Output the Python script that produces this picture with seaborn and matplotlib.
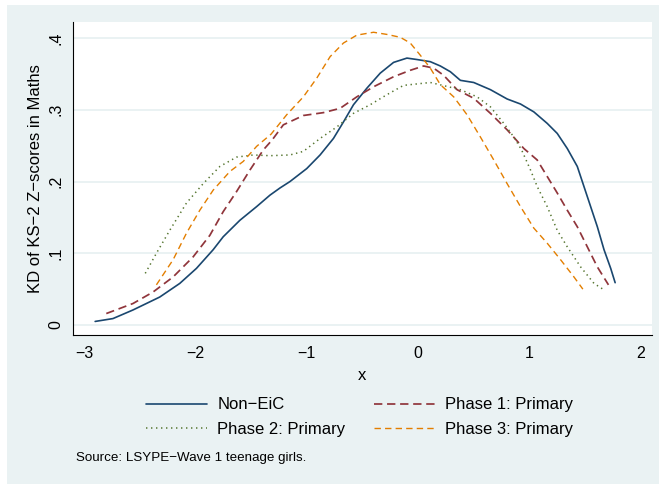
import numpy as np
import pandas as pd
import matplotlib
matplotlib.use("Agg")
import matplotlib.pyplot as plt
from matplotlib.patches import Rectangle
import seaborn as sns

# ---- data ----
non_eic_x = [-2.90, -2.74, -2.56, -2.32, -2.14, -1.99, -1.84, -1.75, -1.60, -1.45, -1.33,
             -1.24, -1.15, -1.00, -0.88, -0.76, -0.67, -0.58, -0.46, -0.34, -0.22, -0.10,
             -0.01, 0.11, 0.20, 0.29, 0.38, 0.50, 0.65, 0.80, 0.92, 1.04, 1.16, 1.25, 1.34,
             1.43, 1.49, 1.55, 1.61, 1.67, 1.73, 1.77]
non_eic_y = [0.005, 0.009, 0.021, 0.039, 0.058, 0.079, 0.105, 0.123, 0.146, 0.165, 0.181,
             0.191, 0.200, 0.218, 0.237, 0.260, 0.283, 0.307, 0.330, 0.351, 0.366, 0.372,
             0.370, 0.367, 0.361, 0.353, 0.341, 0.338, 0.328, 0.315, 0.308, 0.297, 0.281,
             0.267, 0.246, 0.221, 0.193, 0.165, 0.137, 0.105, 0.079, 0.059]

phase1_x = [-2.80, -2.56, -2.38, -2.20, -2.02, -1.87, -1.75, -1.63, -1.51, -1.39, -1.31,
            -1.21, -1.03, -0.85, -0.70, -0.55, -0.40, -0.22, -0.07, 0.05, 0.14, 0.23, 0.35,
            0.50, 0.65, 0.80, 0.95, 1.07, 1.16, 1.25, 1.34, 1.43, 1.52, 1.61, 1.71]
phase1_y = [0.016, 0.030, 0.046, 0.067, 0.095, 0.125, 0.158, 0.186, 0.216, 0.244, 0.258,
            0.279, 0.292, 0.296, 0.302, 0.318, 0.332, 0.346, 0.355, 0.361, 0.358, 0.348, 0.328,
            0.316, 0.295, 0.272, 0.246, 0.230, 0.207, 0.184, 0.160, 0.137, 0.109, 0.081, 0.056]

phase2_x = [-2.45, -2.35, -2.23, -2.08, -1.93, -1.78, -1.63, -1.48, -1.33, -1.15, -1.03,
            -0.88, -0.73, -0.58, -0.43, -0.28, -0.13, -0.01, 0.11, 0.22, 0.38, 0.53, 0.65,
            0.77, 0.86, 0.93, 1.01, 1.07, 1.16, 1.25, 1.34, 1.46, 1.58, 1.67]
phase2_y = [0.072, 0.100, 0.132, 0.170, 0.197, 0.221, 0.234, 0.237, 0.236, 0.237, 0.242,
            0.260, 0.276, 0.295, 0.307, 0.321, 0.334, 0.336, 0.338, 0.334, 0.328, 0.318, 0.304,
            0.281, 0.262, 0.244, 0.216, 0.193, 0.165, 0.132, 0.109, 0.081, 0.058, 0.049]

phase3_x = [-2.35, -2.20, -2.08, -1.96, -1.84, -1.69, -1.57, -1.45, -1.32, -1.18, -1.03,
            -0.91, -0.79, -0.67, -0.55, -0.40, -0.28, -0.16, -0.07, 0.02, 0.11, 0.20, 0.32,
            0.44, 0.56, 0.68, 0.80, 0.92, 1.04, 1.16, 1.28, 1.40, 1.48]
phase3_y = [0.056, 0.091, 0.128, 0.160, 0.188, 0.214, 0.228, 0.249, 0.266, 0.293, 0.318,
            0.344, 0.374, 0.393, 0.404, 0.408, 0.405, 0.401, 0.393, 0.376, 0.358, 0.335, 0.318,
            0.293, 0.262, 0.230, 0.197, 0.165, 0.135, 0.114, 0.091, 0.067, 0.050]

series_names = ["Non\u2212EiC", "Phase 1: Primary", "Phase 2: Primary", "Phase 3: Primary"]
x_ticks = [-3, -2, -1, 0, 1, 2]
y_ticks = [0, 0.1, 0.2, 0.3, 0.4]
y_ticklabels = ["0", ".1", ".2", ".3", ".4"]

# ---- style ----
sns.set_style("white")
plt.rcParams["font.family"] = ["Liberation Sans", "DejaVu Sans"]
plt.rcParams["lines.scale_dashes"] = False
plt.rcParams["axes.unicode_minus"] = True
plt.rcParams["text.color"] = "#000000"
plt.rcParams["axes.labelcolor"] = "#000000"

BG = "#EAF2F3"
colors = ["#1A476F", "#90353B", "#55752F", "#E37E00"]
styles = ["-", (0, (6.0, 3.4)), (0, (1.0, 2.6)), (0, (4.6, 3.0))]
widths = [1.2, 1.25, 1.1, 1.0]

fig = plt.figure(figsize=(6.59, 4.84), dpi=100)
fig.patch.set_facecolor("white")
fig.patches.append(Rectangle((7 / 659, 0), 1 - 7 / 659, 1 - 5 / 484,
                             transform=fig.transFigure, facecolor=BG,
                             edgecolor="none", zorder=-10))

left, right = 73 / 659, 652 / 659
top, bottom = 1 - 22 / 484, 1 - 335 / 484
ax = fig.add_axes([left, bottom, right - left, top - bottom])
ax.set_facecolor("white")
ax.set_zorder(1)

data = [(non_eic_x, non_eic_y), (phase1_x, phase1_y), (phase2_x, phase2_y), (phase3_x, phase3_y)]
for (xs, ys), name, c, ls, lw in zip(data, series_names, colors, styles, widths):
    df = pd.DataFrame({"x": xs, "y": ys})
    sns.lineplot(data=df, x="x", y="y", ax=ax, color=c, linestyle=ls, linewidth=lw,
                 sort=False, estimator=None, label=name, legend=False,
                 dash_capstyle="butt")

ax.set_xlim(-3.099, 2.101)
ax.set_ylim(-0.0139, 0.4223)
ax.set_xticks(x_ticks)
ax.set_xticklabels([f"{t}".replace("-", "\u2212") for t in x_ticks])
ax.set_yticks(y_ticks)
ax.set_yticklabels(y_ticklabels, rotation=90, va="center")

for y in y_ticks:
    ax.axhline(y, color=BG, linewidth=1.4, zorder=0)

for s in ["top", "right"]:
    ax.spines[s].set_visible(False)
for s in ["left", "bottom"]:
    ax.spines[s].set_color("#000000")
    ax.spines[s].set_linewidth(0.8)

ax.tick_params(axis="both", which="major", direction="out", length=4, width=0.8,
               color="#000000", labelsize=11.5, labelcolor="#000000", pad=4)
ax.tick_params(axis="y", pad=3)

ax.set_xlabel("x", fontsize=12, labelpad=5, color="#000000")
ax.set_ylabel("KD of KS\u22122 Z\u2212scores in Maths", fontsize=12, labelpad=4, color="#000000")

lines = ax.get_lines()[:4]
order = [0, 2, 1, 3]  # row-wise fill for a 2-column legend
leg = fig.legend([lines[i] for i in order], [series_names[i] for i in order], loc="center",
                 bbox_to_anchor=(359.5 / 659, 1 - 417 / 484),
                 ncol=2, frameon=False, fontsize=12, handlelength=3.7,
                 handletextpad=0.6, columnspacing=1.7, labelspacing=0.55,
                 borderpad=0, borderaxespad=0)
for t in leg.get_texts():
    t.set_color("#000000")

fig.text(76 / 659, 1 - 458 / 484, "Source: LSYPE\u2212Wave 1 teenage girls.",
         fontsize=9.6, ha="left", va="center", color="#000000")

fig.savefig("out.png", dpi=100, facecolor=fig.get_facecolor())
